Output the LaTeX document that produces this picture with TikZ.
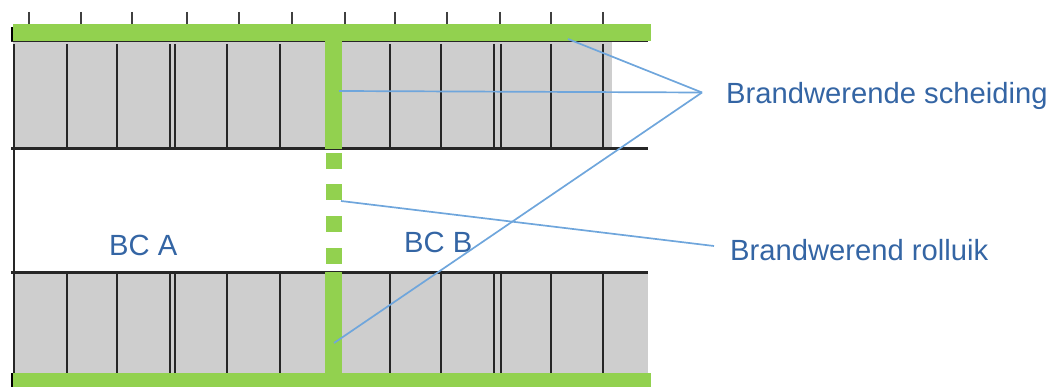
\documentclass[tikz,border=0pt]{standalone}
\usepackage{fontspec}
\setmainfont{Liberation Sans}
\definecolor{wallgreen}{HTML}{92D14F}
\definecolor{cellgray}{HTML}{CECECE}
\definecolor{callout}{HTML}{6FA6DC}
\definecolor{labelblue}{HTML}{3465A4}
\tikzset{
  cell/.style={fill=cellgray,draw=none},
  wall/.style={fill=wallgreen,draw=none},
  beam/.style={draw=black!85,line width=2.3pt},
  rail/.style={draw=black!85,line width=2.6pt},
  tick/.style={draw=black!75,line width=2.2pt},
  leader/.style={draw=callout,line width=1.7pt},
  lbl/.style={text=labelblue,font=\fontsize{29.2}{32}\selectfont,inner sep=0pt,anchor=base west}
}
\begin{document}
\begin{tikzpicture}[x=1pt,y=-1pt]
\useasboundingbox (0,0) rectangle (1051,387);
% grey bays
\fill[cell] (13,41) rectangle (612,148);
\fill[cell] (13,272) rectangle (648,373);
% dividers
\foreach \x in {14,67,117,170,175,227,280,390,441,494,501,551,603}{
  \draw[beam] (\x,44) -- (\x,148);
  \draw[beam] (\x,272) -- (\x,373);
}
\draw[beam] (14,148) -- (14,272);
% horizontal lines
\draw[rail] (11,41) -- (648,41);
\draw[rail] (11,148.5) -- (648,148.5);
\draw[rail] (11,272.5) -- (648,272.5);
\fill[black] (11,27) rectangle (13,41);
\fill[black] (11,373) rectangle (13,387);
% top ticks
\foreach \x in {29,81,132,187,239,292,345,395,447,500,551,603}
  \draw[tick] (\x,12) -- (\x,24);
% green walls
\fill[wall] (13,24) rectangle (651,41);
\fill[wall] (13,373) rectangle (651,387);
\fill[wall] (325,41) rectangle (342,149);
\fill[wall] (325,272) rectangle (342,373);
\foreach \y in {153,184.5,216,248}
  \fill[wall] (326,\y) rectangle (342,\y+16);
% labels
\node[lbl] (sch) at (726,104) {Brandwerende scheiding};
\node[lbl] (rol) at (730,260) {Brandwerend rolluik};
\node[lbl] (bca) at (109,255) {BC A};
\node[lbl] (bcb) at (404,252) {BC B};
% leaders
\coordinate (hub) at (702,92.5);
\coordinate (hubr) at (714,246);
\coordinate (a1) at (568,39);
\coordinate (a2) at (339,91);
\coordinate (a3) at (334,343);
\coordinate (a4) at (341,201);
\draw[leader] (a1) -- (hub);
\draw[leader] (a2) -- (hub);
\draw[leader] (a3) -- (hub);
\draw[leader] (a4) -- (hubr);
\end{tikzpicture}
\end{document}
